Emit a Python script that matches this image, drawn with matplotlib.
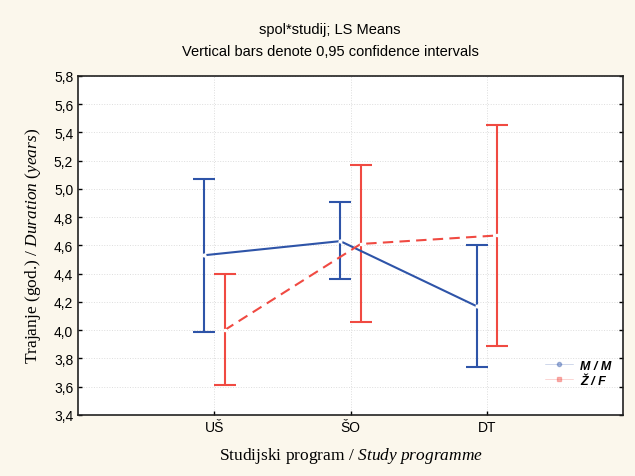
import matplotlib
matplotlib.use("Agg")
import matplotlib.pyplot as plt
from matplotlib.ticker import FuncFormatter, MultipleLocator
import numpy as np

plt.rcParams["mathtext.fontset"] = "custom"
plt.rcParams["mathtext.it"] = "Liberation Serif:italic"
plt.rcParams["mathtext.rm"] = "Liberation Serif"

categories = ["UŠ", "ŠO", "DT"]
series_names = ["M / M", "Ž / F"]
m_mean = [4.53, 4.63, 4.17]
m_low = [3.99, 4.36, 3.74]
m_high = [5.07, 4.91, 4.60]
f_mean = [4.00, 4.61, 4.67]
f_low = [3.61, 4.06, 3.89]
f_high = [4.40, 5.17, 5.45]

bg = "#FBF7EC"
blue = "#2E54A8"
red = "#F04A42"

fig = plt.figure(figsize=(6.35, 4.77), dpi=100, facecolor=bg)
ax = fig.add_axes([0.123, 0.128, 0.858, 0.711])
ax.set_facecolor("white")

x = np.arange(1, len(categories) + 1)
off = 0.075

for xs, mean, lo, hi, col, ls, mk, name in [
    (x - off, m_mean, m_low, m_high, blue, "-", "o", series_names[0]),
    (x + off, f_mean, f_low, f_high, red, (0, (5, 3)), "s", series_names[1]),
]:
    mean = np.array(mean); lo = np.array(lo); hi = np.array(hi)
    ax.errorbar(xs, mean, yerr=[mean - lo, hi - mean], fmt="none",
                ecolor=col, elinewidth=1.5, capsize=8, capthick=1.5, zorder=3)
    ax.plot(xs, mean, color=col, linestyle=ls, linewidth=1.5, zorder=4)
    ax.plot(xs, mean, linestyle="none", marker=mk, markersize=2,
            markerfacecolor="white", markeredgecolor="white", zorder=5)
    ax.plot([], [], color=col, linestyle="-", linewidth=0.4, alpha=0.4,
            marker=mk, markersize=3, markerfacecolor=col, markeredgecolor=col,
            label=name)

ax.set_xlim(0, 4)
ax.set_ylim(3.4, 5.8)
ax.set_xticks(x)
ax.set_xticklabels(categories, fontsize=10, family="Liberation Sans")
ax.yaxis.set_major_locator(MultipleLocator(0.2))
ax.yaxis.set_major_formatter(FuncFormatter(lambda v, p: f"{v:.1f}".replace(".", ",")))
for lab in ax.get_yticklabels():
    lab.set_family("Liberation Sans")
    lab.set_fontsize(10)
ax.tick_params(axis="y", which="both", right=True, direction="in", length=3, width=1)
ax.tick_params(axis="x", top=False, direction="in", length=3, width=1)
ax.grid(True, color="#DDDDDD", linestyle=":", linewidth=0.7)
for s in ax.spines.values():
    s.set_linewidth(1.2)
    s.set_color("#222222")

ax.set_ylabel(r"Trajanje (god.) / $\mathit{Duration\ (years)}$", fontsize=12.5,
              family="Liberation Serif", labelpad=8)
ax.set_xlabel(r"Studijski program / $\mathit{Study\ programme}$", fontsize=12.5,
              family="Liberation Serif", labelpad=8)

fig.text(0.52, 0.937, "spol*studij; LS Means", ha="center", va="center",
         fontsize=10.5, family="Liberation Sans")
fig.text(0.52, 0.89, "Vertical bars denote 0,95 confidence intervals", ha="center",
         va="center", fontsize=10.5, family="Liberation Sans")

leg = ax.legend(loc="lower right", bbox_to_anchor=(1.0, 0.05), frameon=False,
                prop={"family": "Liberation Sans", "style": "italic", "weight": "bold", "size": 9},
                handlelength=2.2, handletextpad=0.6, labelspacing=0.25)

fig.savefig("out.png", dpi=100, facecolor=bg)
